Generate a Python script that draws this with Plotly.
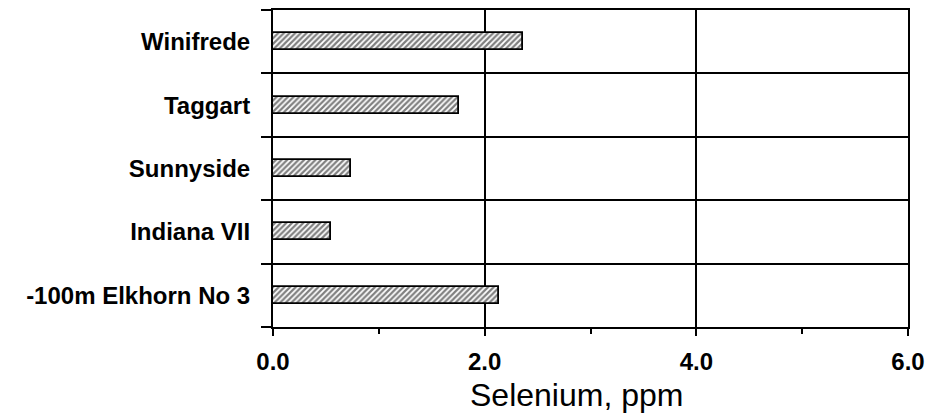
import plotly.graph_objects as go

categories = ["-100m Elkhorn No 3", "Indiana VII", "Sunnyside", "Taggart", "Winifrede"]
selenium_ppm = [2.14, 0.55, 0.74, 1.76, 2.36]
x_tickvals = [0, 2, 4, 6]
x_ticktext = ["0.0", "2.0", "4.0", "6.0"]

FONT = "Liberation Sans, Arial, sans-serif"

fig = go.Figure()
fig.add_trace(go.Bar(
    y=categories,
    x=selenium_ppm,
    orientation="h",
    width=0.27,
    marker=dict(
        color="white",
        line=dict(color="black", width=1.8),
        pattern=dict(shape="/", size=4, solidity=0.55, fgcolor="black", bgcolor="white"),
    ),
))

fig.update_layout(
    width=933, height=420,
    margin=dict(l=273, r=20, t=8, b=93),
    paper_bgcolor="white", plot_bgcolor="white",
    showlegend=False,
    bargap=0,
)

fig.update_yaxes(
    type="category",
    categoryorder="array", categoryarray=categories,
    range=[-0.5, 4.5],
    tickson="boundaries",
    ticks="outside", ticklen=10, tickwidth=2, tickcolor="black",
    showgrid=True, gridcolor="black", gridwidth=2,
    showline=True, linecolor="black", linewidth=2, mirror=True,
    tickfont=dict(family=FONT, size=24, color="black", weight="bold"),
    ticklabelstandoff=16,
)

fig.update_xaxes(
    range=[0, 6],
    tickvals=x_tickvals, ticktext=x_ticktext,
    ticks="outside", ticklen=7, tickwidth=2, tickcolor="black",
    minor=dict(dtick=1, tick0=0, ticks="outside", ticklen=5, tickwidth=2, tickcolor="black", showgrid=False),
    showgrid=True, gridcolor="black", gridwidth=2,
    showline=True, linecolor="black", linewidth=2, mirror=True,
    tickfont=dict(family=FONT, size=24, color="black", weight="bold"),
    ticklabelstandoff=5,
    zeroline=False,
)

fig.add_annotation(
    text="Selenium, ppm", xref="paper", yref="paper",
    x=0.478, y=-0.215, xanchor="center", yanchor="middle",
    showarrow=False,
    font=dict(family=FONT, size=32, color="black"),
)

fig.write_html("out.html")
